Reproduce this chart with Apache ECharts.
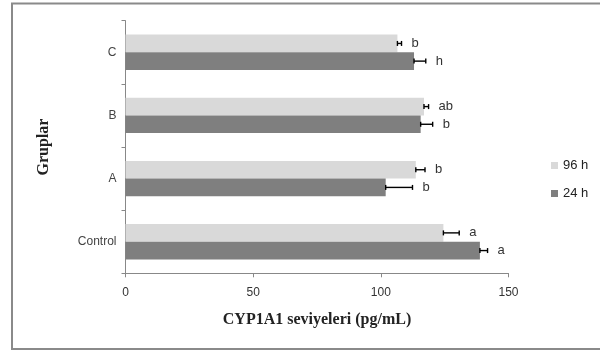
<!DOCTYPE html>
<html>
<head>
<meta charset="utf-8">
<script src="https://cdn.jsdelivr.net/npm/echarts@6/dist/echarts.min.js"></script>
<style>
  html, body { margin: 0; padding: 0; background: #fff; }
</style>
</head>
<body>
<div id="chart" style="width: 600px; height: 350px;"></div>

<script>
    // gruplar (alttan üste)
    var groups = ['Control', 'A', 'B', 'C'];

    // CYP1A1 değerleri (pg/mL)
    var val96 = [124.5, 113.7, 116.9, 106.5];
    var val24 = [138.8, 101.9, 115.6, 113.0];

    // hata çubukları (yalnızca + yönde)
    var err96 = [6.2, 3.6, 1.8, 1.6];
    var err24 = [3.0, 10.5, 4.7, 4.6];

    // istatistik harfleri
    var sig96 = ['a', 'b', 'ab', 'b'];
    var sig24 = ['a', 'b', 'b', 'h'];

    var xTicks = [0, 50, 100, 150];

    var myChart = echarts.init(document.getElementById('chart'));

    function errData(vals, errs, sigs) {
        var out = [];
        for (var i = 0; i < vals.length; i++) {
            out.push([i, vals[i], vals[i] + errs[i], sigs[i]]);
        }
        return out;
    }

    // side: -1 = üst çubuk (96 h), +1 = alt çubuk (24 h)
    function errRender(side) {
        return function (params, api) {
            var cat = api.value(0);
            var p0 = api.coord([api.value(1), cat]);
            var p1 = api.coord([api.value(2), cat]);
            var band = api.size([0, 1])[1];
            var bw = band * 0.56 / 2;
            var y = p0[1] + side * bw / 2;
            var cap = 2.5;
            var st = { stroke: '#000', lineWidth: 1.4 };
            return {
                type: 'group',
                children: [
                    { type: 'line', shape: { x1: p0[0], y1: y, x2: p1[0], y2: y }, style: st },
                    { type: 'line', shape: { x1: p0[0], y1: y - cap, x2: p0[0], y2: y + cap }, style: st },
                    { type: 'line', shape: { x1: p1[0], y1: y - cap, x2: p1[0], y2: y + cap }, style: st },
                    {
                        type: 'text',
                        style: {
                            x: p1[0] + 10, y: y,
                            text: api.value(3),
                            fill: '#333',
                            font: '13px "Liberation Sans", sans-serif',
                            verticalAlign: 'middle',
                            align: 'left'
                        }
                    }
                ]
            };
        };
    }

    var option = {
        animation: false,
        backgroundColor: '#fff',
        graphic: [{
            type: 'polyline',
            shape: { points: [[620, 3.5], [12, 3.5], [12, 349], [620, 349]] },
            style: { stroke: '#8a8a8a', lineWidth: 2, fill: null },
            silent: true
        }],
        legend: {
            data: ['96 h', '24 h'],
            orient: 'vertical',
            left: 546,
            top: 154,
            itemWidth: 7,
            itemHeight: 7,
            itemGap: 15,
            icon: 'rect',
            textStyle: { fontSize: 13, color: '#222', fontFamily: 'Liberation Sans' }
        },
        grid: {
            left: 125.5,
            right: 91.5,
            top: 20.7,
            bottom: 76.7,
            containLabel: false
        },
        xAxis: {
            type: 'value',
            min: 0,
            max: 150,
            interval: 50,
            name: 'CYP1A1 seviyeleri (pg/mL)',
            nameLocation: 'middle',
            nameGap: 39,
            nameTextStyle: {
                fontFamily: 'Liberation Serif',
                fontWeight: 'bold',
                fontSize: 16,
                color: '#222'
            },
            axisLine: { show: true, lineStyle: { color: '#888', width: 1 } },
            axisTick: { show: true, length: 4, lineStyle: { color: '#888' } },
            axisLabel: {
                color: '#333', fontSize: 12, margin: 13,
                fontFamily: 'Liberation Sans',
                formatter: function (v) { return xTicks.indexOf(v) >= 0 ? String(v) : ''; }
            },
            splitLine: { show: false }
        },
        yAxis: {
            type: 'category',
            data: groups,
            name: 'Gruplar',
            nameLocation: 'middle',
            nameGap: 74,
            nameTextStyle: {
                fontFamily: 'Liberation Serif',
                fontWeight: 'bold',
                fontSize: 16,
                color: '#222'
            },
            axisLine: { show: true, lineStyle: { color: '#888', width: 1 } },
            axisTick: { show: true, length: 4, lineStyle: { color: '#888' } },
            axisLabel: { color: '#444', fontSize: 12, margin: 9, fontFamily: 'Liberation Sans' }
        },
        series: [
            {
                name: '96 h',
                type: 'bar',
                data: val96,
                barGap: '0%',
                barCategoryGap: '44%',
                itemStyle: { color: '#d9d9d9' }
            },
            {
                name: '24 h',
                type: 'bar',
                data: val24,
                barGap: '0%',
                barCategoryGap: '44%',
                itemStyle: { color: '#7f7f7f' }
            },
            {
                name: 'err96',
                type: 'custom',
                renderItem: errRender(-1),
                encode: { x: [1, 2], y: 0 },
                data: errData(val96, err96, sig96),
                z: 10
            },
            {
                name: 'err24',
                type: 'custom',
                renderItem: errRender(1),
                encode: { x: [1, 2], y: 0 },
                data: errData(val24, err24, sig24),
                z: 10
            }
        ]
    };

    myChart.setOption(option);
    window.onresize = myChart.resize;
</script>
</body>
</html>
